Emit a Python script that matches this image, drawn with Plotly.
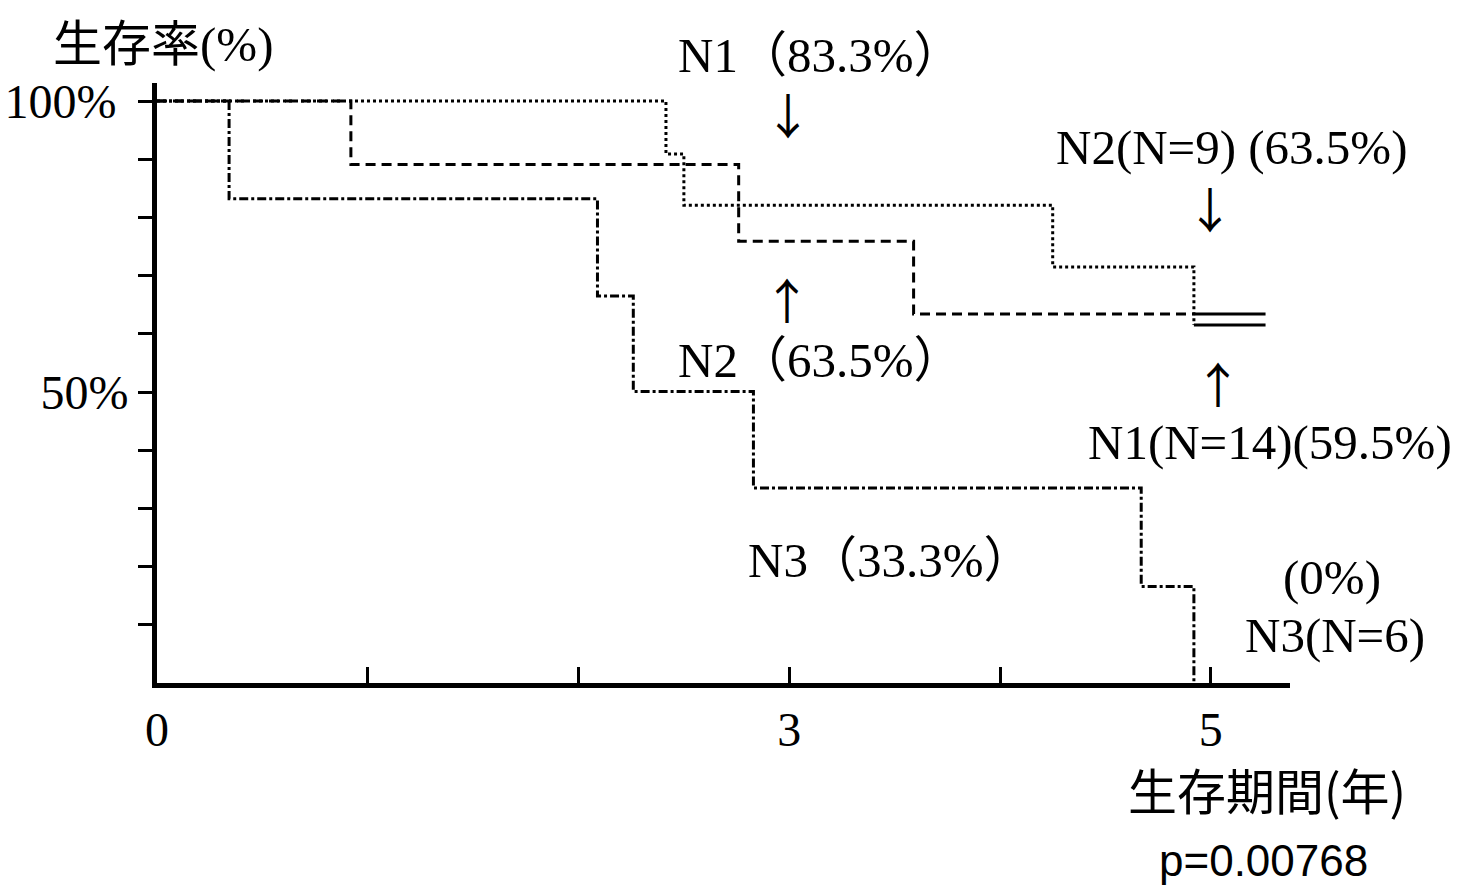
import plotly.graph_objects as go

# ---- data (years, survival %) ----
n1_time = [0, 2.415, 2.50, 4.25, 4.92]
n1_surv = [100, 90.9, 82.1, 71.5, 61.5]

n2_time = [0, 0.92, 2.76, 3.59, 4.92]
n2_surv = [100, 89.1, 75.9, 63.4, 63.4]

n3_time = [0, 0.342, 2.09, 2.26, 2.83, 4.67, 4.92]
n3_surv = [100, 83.2, 66.5, 50.1, 33.5, 16.6, 0]

solid_start = 4.92   # from here the N1 / N2 curves are drawn solid
follow_end = 5.26    # end of follow-up

x_tickvals = [0, 1, 2, 3, 4, 5]
x_ticktext = ["0", "", "", "3", "", "5"]
y_tickvals = [10, 20, 30, 40, 50, 60, 70, 80, 90, 100]
y_ticktext = ["", "", "", "", "50%", "", "", "", "", "100%\u00a0"]

SERIF = "Liberation Serif, Times New Roman, Noto Sans CJK JP, serif"
SANS = "Noto Sans CJK JP, Liberation Sans, sans-serif"

fig = go.Figure()
fig.add_trace(go.Scatter(x=n1_time, y=n1_surv, mode="lines", line_shape="hv",
                         line=dict(color="black", width=3, dash="3px,3px"), name="N1"))
fig.add_trace(go.Scatter(x=n2_time, y=n2_surv, mode="lines", line_shape="hv",
                         line=dict(color="black", width=3, dash="10px,6px"), name="N2"))
fig.add_trace(go.Scatter(x=n3_time, y=n3_surv, mode="lines", line_shape="hv",
                         line=dict(color="black", width=3, dash="9px,3px,3px,3px"), name="N3"))
fig.add_trace(go.Scatter(x=[solid_start, follow_end], y=[n1_surv[-1], n1_surv[-1]], mode="lines",
                         line=dict(color="black", width=3), name="N1 end"))
fig.add_trace(go.Scatter(x=[solid_start, follow_end], y=[n2_surv[-1], n2_surv[-1]], mode="lines",
                         line=dict(color="black", width=3), name="N2 end"))

L, R, T, B = 157, 1290, 83, 683
W, H = 1470, 887


def px(xp):
    return (xp - L) / (R - L)


def py(yp):
    return (B - yp) / (B - T)


def ann(text, xp, yp, size=49, family=SERIF, xanchor="center"):
    fig.add_annotation(text=text, x=px(xp), y=py(yp), xref="paper", yref="paper",
                       xanchor=xanchor, yanchor="middle", showarrow=False,
                       font=dict(family=family, size=size, color="black"))


ARROW = "Noto Sans CJK JP, DejaVu Sans, sans-serif"
ann("N1（83.3%）", 820, 55)
ann("↓", 788, 113, size=48, family=ARROW)
ann("N2(N=9) (63.5%)", 1232, 148)
ann("↓", 1210, 207, size=48, family=ARROW)
ann("↑", 787, 298, size=48, family=ARROW)
ann("N2（63.5%）", 820, 360)
ann("↑", 1218, 382, size=48, family=ARROW)
ann("N1(N=14)(59.5%)", 1270, 442)
ann("N3（33.3%）", 890, 560)
ann("(0%)", 1332, 577)
ann("N3(N=6)", 1335, 635)
ann("<span style='font-family:Noto Sans CJK JP'>生存率</span>(%)", 163, 40, size=49)
ann("生存期間(年)", 1267, 788, size=49, family=SANS)
ann("p=0.00768", 1263, 860, size=44, family="Liberation Sans, Arial, sans-serif")

fig.update_layout(
    width=W, height=H,
    margin=dict(l=L, r=W - R, t=T, b=H - B, pad=0, autoexpand=False),
    paper_bgcolor="white", plot_bgcolor="white",
    showlegend=False,
    xaxis=dict(range=[0, 5.376], tickvals=x_tickvals, ticktext=x_ticktext,
               ticks="inside", ticklen=16, tickwidth=3, tickcolor="black",
               showline=True, linewidth=5, linecolor="black", automargin=False,
               showgrid=False, zeroline=False, ticklabelstandoff=0,
               tickfont=dict(family=SERIF, size=48, color="black")),
    yaxis=dict(range=[0, 103.1], tickvals=y_tickvals, ticktext=y_ticktext,
               ticks="outside", ticklen=14, tickwidth=3, tickcolor="black",
               showline=True, linewidth=5, linecolor="black", automargin=False,
               showgrid=False, zeroline=False, ticklabelstandoff=0,
               tickfont=dict(family=SERIF, size=48, color="black")),
)

fig.write_html("out.html")
